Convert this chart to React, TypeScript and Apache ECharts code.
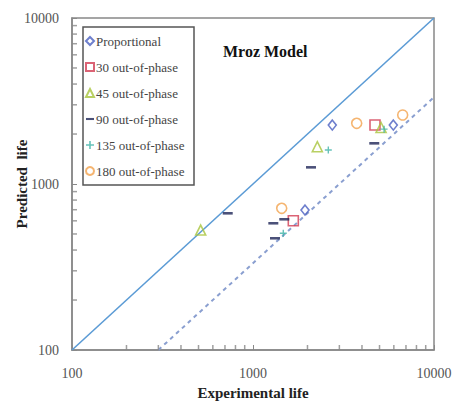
import React, { useEffect, useRef } from "react";
import * as echarts from "echarts";

const axisTicks = [100, 1000, 10000];
const minorTickValues = [200, 300, 400, 500, 600, 700, 800, 900, 2000, 3000, 4000, 5000, 6000, 7000, 8000, 9000];

const proportional = [[2742, 2266], [5960, 2266], [1938, 697]];
const op30 = [[4721, 2266], [1670, 601]];
const op45 = [[5100, 2190], [2266, 1678], [514, 528]];
const op90 = [[4677, 1758], [2091, 1260], [725, 666], [1489, 613], [1295, 580], [1323, 471]];
const op135 = [[5300, 2140], [2607, 1603], [1470, 505]];
const op180 = [[3741, 2321], [6714, 2604], [1441, 714]];

const equalityLine = [[100, 100], [10000, 10000]];
const factorThreeLine = [[300, 100], [10000, 3333]];

const SERIF = "'Liberation Serif', 'DejaVu Serif', serif";
const PLUS = "path://M4,0h2v4h4v2h-4v4h-2v-4h-4v-2h4z";
const DASH = "path://M0,0h10v2.6h-10z";

export default function App() {
  const ref = useRef<HTMLDivElement>(null);
  useEffect(() => {
    if (!ref.current) return;
    const chart = echarts.init(ref.current, null, { renderer: "svg" });
    const hollow = (c: string) => ({ color: "rgba(255,255,255,0)", borderColor: c, borderWidth: 1.6 });
    const axisLabel = {
      fontFamily: SERIF,
      fontSize: 14,
      color: "#555",
      formatter: (v: number) => (axisTicks.includes(Math.round(v)) ? String(Math.round(v)) : ""),
    };
    chart.setOption({
      animation: false,
      backgroundColor: "#fff",
      title: {
        text: "Mroz Model",
        left: 218,
        top: 38,
        textStyle: { fontFamily: SERIF, fontSize: 16, fontWeight: "bold", color: "#111" },
      },
      grid: {
        left: 72,
        right: 22,
        top: 18,
        bottom: 61,
        show: true,
        borderColor: "#888",
        borderWidth: 1.5,
        containLabel: false,
        outerBoundsMode: "none",
      },
      legend: {
        orient: "vertical",
        left: 85,
        top: 33,
        itemWidth: 8,
        itemHeight: 8,
        itemGap: 10,
        padding: 0,
        textStyle: { fontFamily: SERIF, fontSize: 13, color: "#444", lineHeight: 16, padding: [0, 0, 0, -3] },
        data: [
          { name: "Proportional" },
          { name: "30 out-of-phase" },
          { name: "45 out-of-phase" },
          { name: "90 out-of-phase", icon: DASH },
          { name: "135 out-of-phase", icon: PLUS },
          { name: "180 out-of-phase" },
        ],
      },
      graphic: [
        {
          type: "rect",
          shape: { x: 83, y: 27, width: 111, height: 158 },
          style: { fill: "none", stroke: "#555", lineWidth: 1.5 },
          z: 10,
        },
      ],
      xAxis: {
        type: "log",
        logBase: 10,
        min: 100,
        max: 10000,
        name: "Experimental life",
        nameLocation: "middle",
        nameGap: 35,
        nameMoveOverlap: false,
        nameTextStyle: { fontFamily: SERIF, fontSize: 15, fontWeight: "bold", color: "#222" },
        axisLine: { lineStyle: { color: "#888", width: 1.5 } },
        axisTick: { inside: true, length: 5, lineStyle: { color: "#888" } },
        axisLabel: { ...axisLabel, margin: 16 },
        splitLine: { show: false },
      },
      yAxis: {
        type: "log",
        logBase: 10,
        min: 100,
        max: 10000,
        name: "Predicted  life",
        nameLocation: "middle",
        nameGap: 43,
        nameMoveOverlap: false,
        nameTextStyle: { fontFamily: SERIF, fontSize: 15, fontWeight: "bold", color: "#222" },
        axisLine: { lineStyle: { color: "#888", width: 1.5 } },
        axisTick: { inside: true, length: 5, lineStyle: { color: "#888" } },
        axisLabel: { ...axisLabel, margin: 13 },
        splitLine: { show: false },
      },
      series: [
        {
          type: "line",
          data: equalityLine,
          symbol: "none",
          silent: true,
          lineStyle: { color: "#5b9bd5", width: 1.6 },
          z: 1,
        },
        {
          type: "line",
          data: factorThreeLine,
          symbol: "none",
          silent: true,
          lineStyle: { color: "#8a9fd0", width: 2, type: [4, 4] },
          z: 1,
        },
        {
          type: "scatter",
          data: minorTickValues.map((v) => [v, 100]),
          symbol: "rect",
          symbolSize: [1.5, 5],
          symbolOffset: [0, -2.5],
          itemStyle: { color: "#888" },
          silent: true,
          clip: false,
          z: 5,
        },
        {
          type: "scatter",
          data: minorTickValues.map((v) => [100, v]),
          symbol: "rect",
          symbolSize: [5, 1.5],
          symbolOffset: [2.5, 0],
          itemStyle: { color: "#888" },
          silent: true,
          clip: false,
          z: 5,
        },
        { name: "Proportional", type: "scatter", data: proportional, symbol: "diamond", symbolSize: [8, 10], itemStyle: hollow("#4a5fc0"), z: 3 },
        { name: "30 out-of-phase", type: "scatter", data: op30, symbol: "rect", symbolSize: 10, itemStyle: hollow("#d23c52"), z: 3 },
        { name: "45 out-of-phase", type: "scatter", data: op45, symbol: "triangle", symbolSize: 10, itemStyle: hollow("#a8c43c"), z: 3 },
        { name: "90 out-of-phase", type: "scatter", data: op90, symbol: DASH, symbolSize: [10, 2.6], itemStyle: { color: "#1e2558" }, z: 3 },
        { name: "135 out-of-phase", type: "scatter", data: op135, symbol: PLUS, symbolSize: 7, itemStyle: { color: "#3fb3a8" }, z: 3 },
        { name: "180 out-of-phase", type: "scatter", data: op180, symbol: "circle", symbolSize: 10, itemStyle: hollow("#f2a24e"), z: 3 },
      ],
    });
    return () => chart.dispose();
  }, []);
  return <div ref={ref} style={{ width: 456, height: 411, position: "absolute", left: 0, top: 0 }} />;
}
